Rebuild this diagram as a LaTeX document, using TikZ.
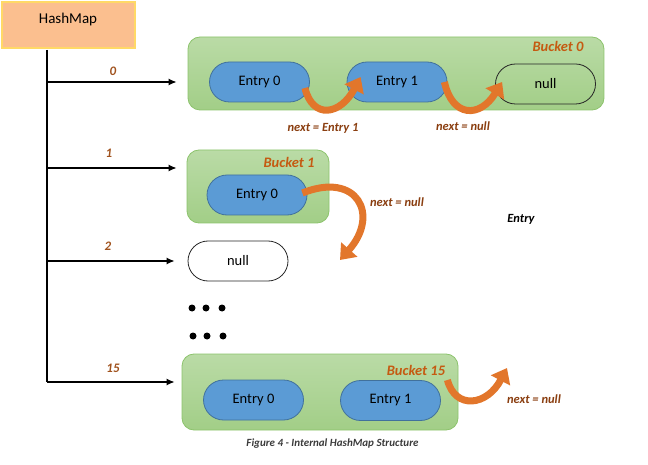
\documentclass[tikz,border=0pt]{standalone}
\usepackage{fontspec}
\setmainfont{Carlito}
\usetikzlibrary{arrows.meta,calc}
\definecolor{hmfill}{HTML}{FBBF8F}
\definecolor{hmedge}{HTML}{FFD966}
\definecolor{bktop}{HTML}{BADBA6}
\definecolor{bkbot}{HTML}{A2CE87}
\definecolor{bkedge}{HTML}{8CC36C}
\definecolor{entfill}{HTML}{5B9BD5}
\definecolor{entedge}{HTML}{41719C}
\definecolor{bklabel}{HTML}{C55A11}
\definecolor{idxcol}{HTML}{A0521D}
\definecolor{nextcol}{HTML}{8A3E10}
\definecolor{arrowcol}{HTML}{E2762B}
\definecolor{capcol}{HTML}{3B3B3B}
\begin{document}
\begin{tikzpicture}[x=1pt,y=-1pt,
  hmbox/.style={draw=hmedge, line width=1.2pt, fill=hmfill, minimum width=133pt, minimum height=46pt, inner sep=0pt},
  bucket/.style={draw=bkedge, line width=0.8pt, top color=bktop, bottom color=bkbot, rounded corners=12pt, inner sep=0pt},
  entry/.style={draw=entedge, line width=0.8pt, fill=entfill, rounded corners=20pt, minimum width=100pt, minimum height=40pt, inner sep=0pt, font=\fontsize{14.5}{17}\selectfont},
  nullbox/.style={draw=black!85, line width=0.8pt, rounded corners=20pt, minimum width=100pt, minimum height=40pt, inner sep=0pt, font=\fontsize{14.5}{17}\selectfont},
  bklab/.style={text=bklabel, inner sep=0pt, font=\fontsize{14.5}{17}\selectfont\bfseries\itshape},
  idx/.style={text=idxcol, inner sep=0pt, font=\fontsize{13}{15}\selectfont\bfseries\itshape},
  nextlab/.style={text=nextcol, inner sep=0pt, font=\fontsize{12.5}{15}\selectfont\bfseries\itshape},
  ptr/.style={line width=1.3pt, -{Latex[length=8pt,width=7pt]}},
  nextarrow/.style={draw=arrowcol, line width=7pt, -{Triangle[length=14pt,width=21pt]}},
  dotmark/.style={circle, fill=black, inner sep=0pt, minimum size=7pt}
]
\useasboundingbox (0,0) rectangle (648,465);
% HashMap
\node[hmbox] (hm) at (68.5,25) {};
\node[inner sep=0pt, font=\fontsize{15}{18}\selectfont] (hmt) at (68,20) {HashMap};
\coordinate (vtop) at (47,50);
\coordinate (t0) at (47,82);
\coordinate (t1) at (47,168);
\coordinate (t2) at (47,261);
\coordinate (t15) at (47,382);
\draw[line width=1.3pt] (vtop) -- (t15);
% buckets
\node[bucket, minimum width=416pt, minimum height=73pt] (b0) at (396,73.5) {};
\node[bucket, minimum width=142pt, minimum height=73pt] (b1) at (258,186.5) {};
\node[bucket, minimum width=276pt, minimum height=76pt] (b15) at (320,392) {};
\node[bklab] (b0l) at (558,46) {Bucket 0};
\node[bklab] (b1l) at (289,162) {Bucket 1};
\node[bklab] (b15l) at (416,370) {Bucket 15};
% entries
\node[entry] (e00) at (259.5,82) {Entry 0};
\node[entry] (e01) at (397,82) {Entry 1};
\node[nullbox] (n0) at (545.5,84) {null};
\node[entry] (e10) at (257,195) {Entry 0};
\node[nullbox, fill=white] (n2) at (238,261) {null};
\node[entry] (e150) at (253.5,400) {Entry 0};
\node[entry] (e151) at (390.5,400.5) {Entry 1};
% pointers
\draw[ptr, shorten >=11pt] (t0) -- (t0 -| b0.west);
\draw[ptr, shorten >=10pt] (t1) -- (t1 -| b1.west);
\draw[ptr, shorten >=13pt] (t2) -- (t2 -| n2.west);
\draw[ptr, shorten >=7pt] (t15) -- (t15 -| b15.west);
\node[idx] (i0) at (113,71) {0};
\node[idx] (i1) at (109,153) {1};
\node[idx] (i2) at (108,246) {2};
\node[idx] (i15) at (113,368) {15};
% dots
\node[dotmark] (d1) at (192,308) {};
\node[dotmark] (d2) at (206,308) {};
\node[dotmark] (d3) at (222,308) {};
\node[dotmark] (d4) at (193,336) {};
\node[dotmark] (d5) at (207,336) {};
\node[dotmark] (d6) at (223,336) {};
% next arrows
\coordinate (f1) at (340,260);
\coordinate (f2) at (507,368);
\draw[nextarrow] ([shift={(-5,6)}]e00.east) .. controls +(8,32) and +(-20,38) .. ([shift={(14,-5)}]e01.west);
\draw[nextarrow] ([shift={(-3,0)}]e01.east) .. controls +(8,36) and +(-22,36) .. ([shift={(7,-2)}]n0.west);
\draw[nextarrow] ([shift={(-5,-2)}]e10.east) .. controls +(55,-22) and +(40,-45) .. (f1);
\draw[nextarrow] ([shift={(-11,-12)}]b15.east) .. controls +(8,30) and +(-20,38) .. (f2);
\node[nextlab] (l1) at (323,128) {next = Entry 1};
\node[nextlab] (l2) at (463,126) {next = null};
\node[nextlab] (l3) at (397,202) {next = null};
\node[nextlab] (l4) at (534,399) {next = null};
\node[inner sep=0pt, font=\fontsize{12.5}{15}\selectfont\bfseries\itshape] (ent) at (521,219) {Entry};
\node[inner sep=0pt, text=capcol, font=\fontsize{11}{13}\selectfont\bfseries\itshape] (cap) at (332.5,444) {Figure 4 - Internal HashMap Structure};
\end{tikzpicture}
\end{document}
